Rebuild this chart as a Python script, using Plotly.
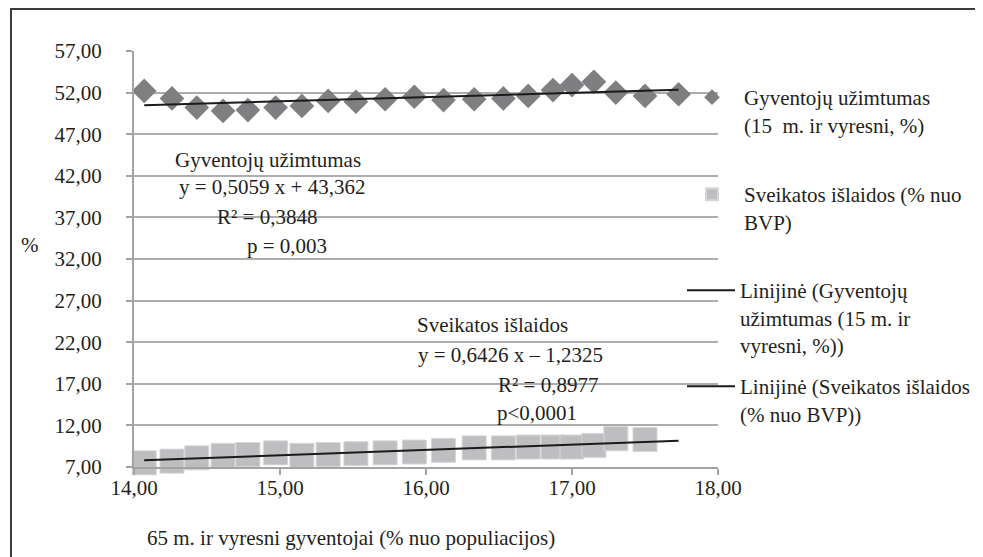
import plotly.graph_objects as go

# ---- data ----
pop65 = [14.07, 14.26, 14.43, 14.61, 14.78, 14.97, 15.15, 15.33, 15.52, 15.72, 15.92,
         16.12, 16.33, 16.53, 16.70, 16.87, 17.00, 17.15, 17.30, 17.50, 17.73]
employment = [52.2, 51.3, 50.2, 49.8, 49.9, 50.2, 50.4, 51.0, 50.9, 51.2, 51.5,
              51.1, 51.2, 51.3, 51.6, 52.3, 52.9, 53.3, 52.0, 51.6, 51.8]
health = [7.5, 7.7, 8.1, 8.4, 8.5, 8.7, 8.4, 8.5, 8.6, 8.7, 8.8,
          9.0, 9.3, 9.3, 9.4, 9.4, 9.4, 9.6, 10.4, 10.3]

emp_slope, emp_intercept = 0.5059, 43.362
hl_slope, hl_intercept = 0.6426, -1.2325

y_ticks = [7, 12, 17, 22, 27, 32, 37, 42, 47, 52, 57]
x_ticks = [14, 15, 16, 17, 18]

name_emp = "Gyventojų užimtumas<br>(15  m. ir vyresni, %)"
name_hl = "Sveikatos išlaidos (% nuo<br>BVP)"
name_tr_emp = "Linijinė (Gyventojų<br>užimtumas (15 m. ir<br>vyresni, %))"
name_tr_hl = "Linijinė (Sveikatos išlaidos<br>(% nuo BVP))"

FONT = "Liberation Serif, Times New Roman, serif"
TXT = "#231F20"
FS = 21

# page body keeps a default 8px margin, so screen = figure + 8
OFF = 8
W, H = 983, 557
L, T = 134 - OFF, 51 - OFF
PR, PB = 718 - OFF, 467 - OFF
R, B = W - PR, H - PB
PW, PH = PR - L, PB - T


def px(xs):
    return (xs - OFF - L) / PW


def py(ys):
    return (PB - (ys - OFF)) / PH


fig = go.Figure()

fig.add_trace(go.Scatter(
    x=pop65, y=employment, mode="markers", name=name_emp,
    marker=dict(symbol="diamond", size=19, color="#7F7F82"),
    cliponaxis=False, legend="legend"))

fig.add_trace(go.Scatter(
    x=pop65[:len(health)], y=health, mode="markers", name=name_hl,
    marker=dict(symbol="square", size=24, color="#BEBEC1",
                line=dict(color="#D6D6D8", width=1)),
    cliponaxis=False, legend="legend2"))

xr = [min(pop65), max(pop65)]
fig.add_trace(go.Scatter(
    x=xr, y=[emp_slope * v + emp_intercept for v in xr], mode="lines",
    name=name_tr_emp, line=dict(color="#1A1A1A", width=2), legend="legend3"))
fig.add_trace(go.Scatter(
    x=xr, y=[hl_slope * v + hl_intercept for v in xr], mode="lines",
    name=name_tr_hl, line=dict(color="#1A1A1A", width=2), legend="legend4"))

leg_common = dict(font=dict(family=FONT, size=FS, color=TXT), bgcolor="rgba(0,0,0,0)",
                  xanchor="left", yanchor="top", valign="top")
fig.update_layout(
    showlegend=True,
    legend=dict(**leg_common, x=px(680), itemwidth=54, y=py(77), itemsizing="constant"),
    legend2=dict(**leg_common, x=px(680), itemwidth=54, y=py(174), itemsizing="constant"),
    legend3=dict(**leg_common, x=px(682), itemwidth=48, y=py(270)),
    legend4=dict(**leg_common, x=px(682), itemwidth=48, y=py(366)),
)

annots = [
    ("Gyventojų užimtumas", 173, 160),
    ("y = 0,5059 x + 43,362", 177, 187),
    ("R² = 0,3848", 215, 217),
    ("p = 0,003", 245, 246),
    ("Sveikatos išlaidos", 415, 325),
    ("y = 0,6426 x – 1,2325", 416, 355),
    ("R² = 0,8977", 496, 385),
    ("p<0,0001", 495, 413),
    ("65 m. ir vyresni gyventojai (% nuo populiacijos)", 145, 538),
]
for text, xl, yc in annots:
    fig.add_annotation(text=text, x=px(xl), y=py(yc), xref="paper", yref="paper",
                       xanchor="left", yanchor="middle", showarrow=False,
                       font=dict(family=FONT, size=FS, color=TXT))
fig.add_annotation(text="%", x=px(30), y=py(245), xref="paper", yref="paper",
                   xanchor="center", yanchor="middle", showarrow=False,
                   font=dict(family=FONT, size=FS, color=TXT))

# outer frame of the chart
fig.add_shape(type="rect", xref="paper", yref="paper",
              x0=px(11), y0=py(9), x1=px(W + 30), y1=py(H + 30),
              line=dict(color="#3C3C3C", width=2), fillcolor="rgba(0,0,0,0)")

fig.update_layout(
    width=W, height=H,
    margin=dict(l=L, r=R, t=T, b=B),
    paper_bgcolor="white", plot_bgcolor="white",
    separators=",.",
    font=dict(family=FONT, size=FS, color=TXT),
    xaxis=dict(range=[14, 18], tickvals=x_ticks, tickformat=".2f",
               showgrid=False, zeroline=False, showline=True,
               linecolor="#A3A3A3", linewidth=2, ticks="outside", ticklen=6,
               tickcolor="#A3A3A3", tickwidth=2, ticklabelstandoff=-5,
               tickfont=dict(family=FONT, size=FS, color=TXT)),
    yaxis=dict(range=[7, 57], tickvals=y_ticks, tickformat=".2f",
               showgrid=True, gridcolor="#ADADAD", gridwidth=2, zeroline=False,
               showline=True, linecolor="#A3A3A3", linewidth=2,
               ticks="outside", ticklen=6, tickcolor="#A3A3A3", tickwidth=2,
               ticklabelstandoff=20,
               tickfont=dict(family=FONT, size=FS, color=TXT)),
)

fig.write_html("out.html")
